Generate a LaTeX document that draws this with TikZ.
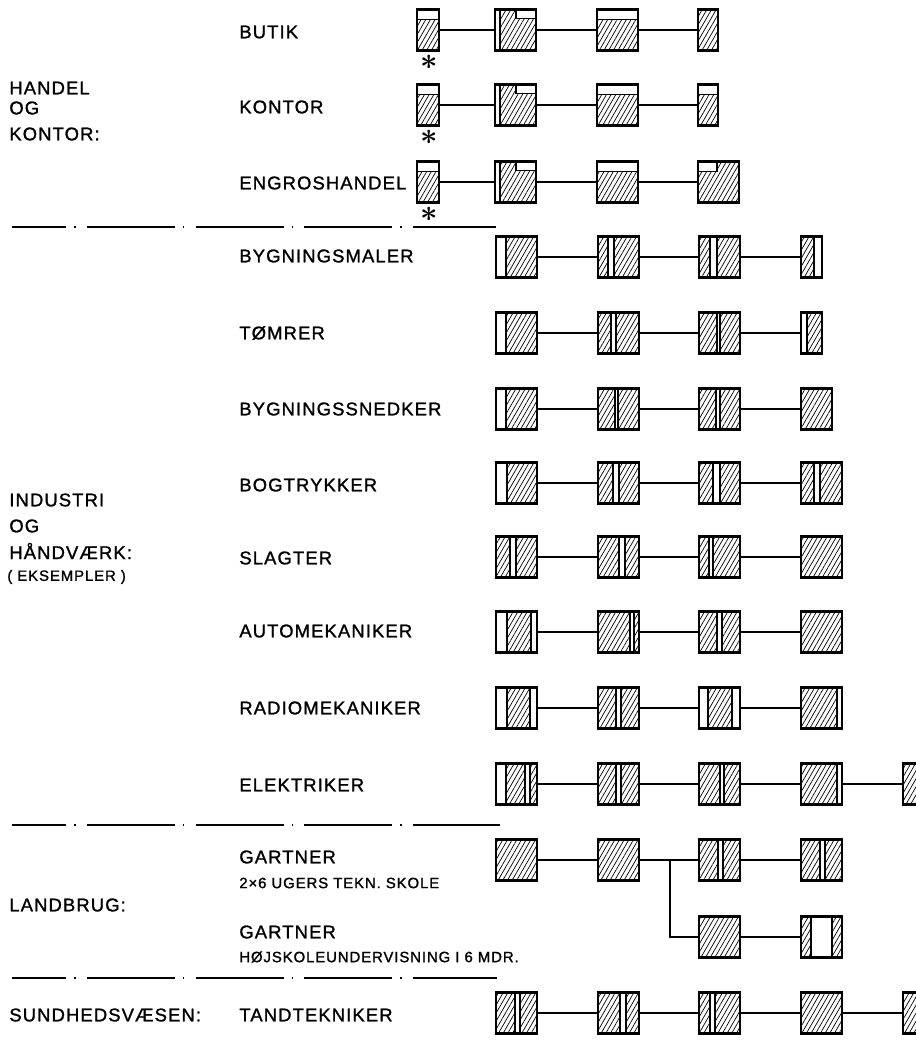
\documentclass[tikz,border=0pt]{standalone}
\usepackage{fontspec}
\setmainfont{Liberation Sans}[LetterSpace=6, FakeBold=1.3]
\usetikzlibrary{patterns.meta}

\newcommand\pxu{0.02cm}
% one box of the scheme: node only
\newcommand\slot[4]{\node[cellbox, minimum width={#4*\pxu}] (#1) at (#2,#3) {};}
% box with vertical hatched parts (offsets from its left side)
\newcommand\cell[5]{%
  \foreach \a/\b in {#5}{\filldraw[hatchfill] ({#2+\a},{#3-20.5}) rectangle ({#2+\b},{#3+20.5});}
  \slot{#1}{#2}{#3}{#4}}
% hatched below a white top band
\newcommand\band[3]{\filldraw[hatchfill] (#1,{#2-10.5}) rectangle ({#1+#3},{#2+20.5});}

\tikzset{
  cellbox/.style={draw, line width=1.3pt, inner sep=0pt, outer sep=0pt, anchor=west, minimum height=41*\pxu},
  hatchfill/.style={draw, line width=0.7pt, pattern={Lines[angle=60, distance=2.3pt, line width=0.4pt]}},
  link/.style={line width=1pt},
  sepline/.style={line width=0.7pt, dash pattern=on 50pt off 4.5pt on 0.8pt off 6.5pt, dash phase=19pt},
  lbl/.style={anchor=west, inner sep=0pt, font=\fontsize{10.5}{12}\selectfont},
  note/.style={anchor=west, inner sep=0pt, font=\fontsize{8.5}{10}\selectfont},
  astnode/.style={inner sep=0pt, font=\fontsize{18}{18}\selectfont\boldmath},
}

\begin{document}
\begin{tikzpicture}[x=0.02cm, y=-0.02cm]
  \useasboundingbox (0,0) rectangle (916,1048);
  \clip (0,0) rectangle (916,1048);

  % Handel og kontor
  \foreach \y/\n in {30/1,105/2,182/3}{
    \band{417}{\y}{22}
    \band{597}{\y}{41}
    \filldraw[hatchfill] (500,{\y+20.5}) -- (500,{\y-20.5}) -- (516,{\y-20.5}) -- (516,{\y-11.5})
      -- (536,{\y-11.5}) -- (536,{\y+20.5}) -- cycle;
    \slot{hk\n0}{417}{\y}{22}
    \slot{hk\n1}{495}{\y}{41}
    \slot{hk\n2}{597}{\y}{41}
    \node[astnode] (ast\n) at (429,{\y+32}) {$\ast$};
  }
  \cell{hk13}{698}{30}{20}{0/20}
  \band{698}{105}{20}
  \slot{hk23}{698}{105}{20}
  \filldraw[hatchfill] (698,171.5) -- (717,171.5) -- (717,161.5) -- (739,161.5) -- (739,202.5) -- (698,202.5) -- cycle;
  \slot{hk33}{698}{182}{41}
  \foreach \n in {1,2,3}
    \draw[link] (hk\n0) -- (hk\n1) -- (hk\n2) -- (hk\n3);

  \node[lbl] (handel) at (9,88) {HANDEL};
  \node[lbl] (og1) at (9,108) {OG};
  \node[lbl] (kontorcat) at (9,134) {KONTOR:};
  \node[lbl] (butik) at (239,32) {BUTIK};
  \node[lbl] (kontor) at (239,107) {KONTOR};
  \node[lbl] (engros) at (239,183) {ENGROSHANDEL};

  \draw[sepline] (12,227) -- (496,227);

  % Industri og haandvaerk
  \cell{bm1}{496}{257}{41}{10/41}
  \cell{bm2}{598}{257}{41}{0/10,16/41}
  \cell{bm3}{699}{257}{41}{0/11,18/41}
  \cell{bm4}{801}{257}{21}{0/13}
  \cell{tm1}{496}{333}{41}{10/41}
  \cell{tm2}{598}{333}{41}{0/13,18/41}
  \cell{tm3}{699}{333}{41}{0/18,21/41}
  \cell{tm4}{801}{333}{21}{6/21}
  \cell{sn1}{496}{409}{41}{10/41}
  \cell{sn2}{598}{409}{41}{0/17,20/41}
  \cell{sn3}{699}{409}{41}{0/17,21/41}
  \cell{sn4}{801}{409}{31}{0/31}
  \cell{bt1}{496}{483}{41}{11/41}
  \cell{bt2}{598}{483}{41}{0/15,21/41}
  \cell{bt3}{699}{483}{41}{0/14,21/41}
  \cell{bt4}{801}{483}{41}{0/13,19/41}
  \cell{sl1}{496}{557}{41}{0/14,20/41}
  \cell{sl2}{598}{557}{41}{0/21,27/41}
  \cell{sl3}{699}{557}{41}{0/10,14/41}
  \cell{sl4}{801}{557}{41}{0/41}
  \cell{am1}{496}{632}{41}{11/35}
  \cell{am2}{598}{632}{41}{0/32,36/41}
  \cell{am3}{699}{632}{41}{0/18,23/41}
  \cell{am4}{801}{632}{41}{0/41}
  \cell{rm1}{496}{708}{41}{11/34}
  \cell{rm2}{598}{708}{41}{0/18,23/41}
  \cell{rm3}{699}{708}{41}{9/33}
  \cell{rm4}{801}{708}{41}{0/36}
  \cell{el1}{496}{784}{41}{10/29,34/41}
  \cell{el2}{598}{784}{41}{0/18,23/41}
  \cell{el3}{699}{784}{41}{0/21,25/41}
  \cell{el4}{801}{784}{41}{0/36}
  \cell{el5}{903}{784}{41}{0/41}
  \foreach \r in {bm,tm,sn,bt,sl,am,rm}
    \draw[link] (\r1) -- (\r2) -- (\r3) -- (\r4);
  \draw[link] (el1) -- (el2) -- (el3) -- (el4) -- (el5);

  \node[lbl] (bygmaler) at (239,256) {BYGNINGSMALER};
  \node[lbl] (toemrer) at (239,333) {TØMRER};
  \node[lbl] (snedker) at (239,409) {BYGNINGSSNEDKER};
  \node[lbl] (bogtr) at (239,485) {BOGTRYKKER};
  \node[lbl] (slagter) at (239,558) {SLAGTER};
  \node[lbl] (automek) at (239,631) {AUTOMEKANIKER};
  \node[lbl] (radiomek) at (239,708) {RADIOMEKANIKER};
  \node[lbl] (elektr) at (239,785) {ELEKTRIKER};
  \node[lbl] (industri) at (9,500) {INDUSTRI};
  \node[lbl] (og2) at (9,526) {OG};
  \node[lbl] (haandv) at (9,551) {HÅNDVÆRK:};
  \node[note] (eksempler) at (7,577) {( EKSEMPLER )};

  \draw[sepline] (12,825) -- (500,825);

  % Landbrug
  \cell{ga1}{496}{860}{41}{0/41}
  \cell{ga2}{598}{860}{41}{0/41}
  \cell{ga3}{699}{860}{41}{0/19,24/41}
  \cell{ga4}{801}{860}{41}{0/19,24/41}
  \cell{gb3}{699}{937}{41}{0/41}
  \cell{gb4}{801}{937}{41}{0/10,31/41}
  \coordinate (fork) at (670,860);
  \draw[link] (ga1) -- (ga2) -- (ga3) -- (ga4);
  \draw[link, line width=1.3pt] (fork) |- (gb3);
  \draw[link] (gb3) -- (gb4);

  \node[lbl] (gartner1) at (239,857) {GARTNER};
  \node[note] (tekn) at (239,883) {2×6 UGERS TEKN. SKOLE};
  \node[lbl] (gartner2) at (239,932) {GARTNER};
  \node[note] (hoejsk) at (239,957) {HØJSKOLEUNDERVISNING I 6 MDR.};
  \node[lbl] (landbrug) at (9,905) {LANDBRUG:};

  \draw[sepline] (12,978) -- (497,978);

  % Sundhedsvaesen
  \cell{tt1}{496}{1013}{41}{0/19,24/41}
  \cell{tt2}{598}{1013}{41}{0/22,28/41}
  \cell{tt3}{699}{1013}{41}{0/11,16/41}
  \cell{tt4}{801}{1013}{41}{0/41}
  \cell{tt5}{903}{1013}{41}{0/41}
  \draw[link] (tt1) -- (tt2) -- (tt3) -- (tt4) -- (tt5);

  \node[lbl] (sundhed) at (9,1015) {SUNDHEDSVÆSEN:};
  \node[lbl] (tandt) at (239,1015) {TANDTEKNIKER};
\end{tikzpicture}
\end{document}
